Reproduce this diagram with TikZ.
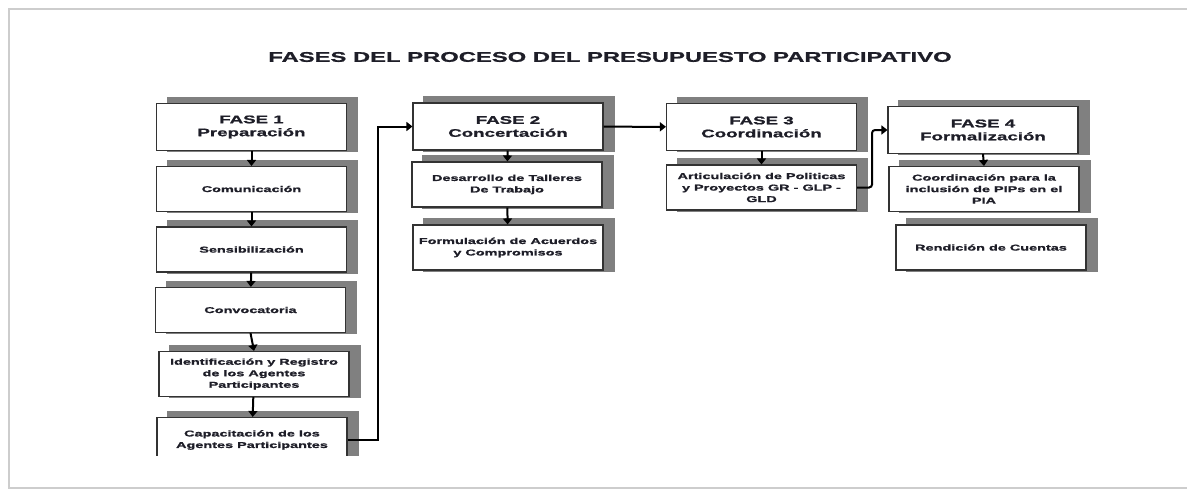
\documentclass[tikz,border=0pt]{standalone}
\usepackage{fontspec}
\setmainfont{Liberation Sans}[FakeStretch=1.7, BoldFont={Liberation Sans Bold}, BoldFeatures={FakeBold=1.2}]
\usetikzlibrary{arrows.meta,backgrounds}
\definecolor{shadowgray}{RGB}{128,128,128}
\definecolor{framegray}{RGB}{205,205,205}
\definecolor{textdark}{RGB}{30,30,40}
\tikzset{
	fase/.style={draw=black!80, line width=1.1pt, fill=white, minimum width=190pt, minimum height=47pt, inner sep=0pt, align=center, text=textdark, font=\bfseries\fontsize{11}{13}\selectfont},
	paso/.style={fase, minimum height=45pt, font=\bfseries\fontsize{8.5}{11.5}\selectfont},
	link/.style={line width=2pt, -{Triangle[length=6pt,width=9pt]}},
}
\begin{document}
\begin{tikzpicture}[x=1pt,y=-1pt]
			\useasboundingbox (0,0) rectangle (1187,491);
			\draw[framegray, line width=1.6pt] (1187,9) -- (9,9) -- (9,488) -- (1187,488);
			\node[text=textdark, font=\bfseries\fontsize{14}{16}\selectfont] (titulo) at (610,57) {FASES DEL PROCESO DEL PRESUPUESTO PARTICIPATIVO};
			\node[fase] (f1) at (251.5,127) {FASE 1\\Preparación};
			\node[paso] (comu) at (251.5,189) {Comunicación};
			\node[paso] (sens) at (251.5,249.5) {Sensibilización};
			\node[paso] (conv) at (250.5,310) {Convocatoria};
			\node[paso] (iden) at (254,374) {Identificación y Registro\\de los Agentes\\Participantes};
			\node[paso] (capa) at (252,440) {Capacitación de los\\Agentes Participantes};
			\node[fase] (f2) at (508,126.5) {FASE 2\\Concertación};
			\node[paso] (desa) at (507,184.5) {Desarrollo de Talleres\\De Trabajo};
			\node[paso] (form) at (508,247.5) {Formulación de Acuerdos\\y Compromisos};
			\node[fase] (f3) at (761.5,127) {FASE 3\\Coordinación};
			\node[paso] (arti) at (761.5,187.5) {Articulación de Politicas\\y Proyectos GR - GLP -\\GLD};
			\node[fase] (f4) at (983,130) {FASE 4\\Formalización};
			\node[paso] (coor) at (984,189) {Coordinación para la\\inclusión de PIPs en el\\PIA};
			\node[paso] (rend) at (991,247.5) {Rendición de Cuentas};
			\begin{scope}[on background layer]
				\foreach \n in {f1,comu,sens,conv,iden,capa,f2,desa,form,f3,arti,f4,coor,rend}
					\fill[shadowgray] ([xshift=11pt,yshift=6pt]\n.north west) rectangle ([xshift=11pt,yshift=-1pt]\n.south east);
			\end{scope}
			\draw[link] (f1) -- (comu);
			\draw[link] (comu) -- (sens);
			\draw[link] (sens) -- (conv);
			\draw[link] (conv.south) -- (iden.north);
			\draw[link] (iden) -- (capa);
			\draw[link] (capa.east) -- ++(30,0) |- (f2.west);
			\draw[link] (f2) -- (desa);
			\draw[link] (desa) -- (form);
			\draw[link] (f2) -- (f3);
			\draw[link] (f3) -- (arti);
			\draw[link, rounded corners=3pt] (arti.east) -- ++(15,0) |- (f4.west);
			\draw[link] (f4.south) -- (coor.north);
			\fill[white] (140,456) rectangle (380,485);
\end{tikzpicture}
\end{document}
